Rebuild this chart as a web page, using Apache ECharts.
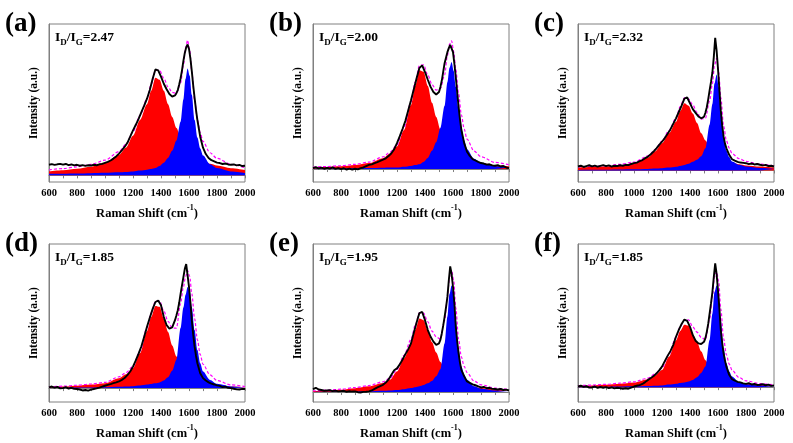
<!DOCTYPE html>
<html><head><meta charset="utf-8">
<script src="https://cdn.jsdelivr.net/npm/echarts@6/dist/echarts.min.js"></script>
<style>html,body{margin:0;padding:0;background:#fff}#c{width:793px;height:443px}</style>
</head><body><div id="c"></div>
<script>
// ---------- data ----------
const panelLabels = ['(a)', '(b)', '(c)', '(d)', '(e)', '(f)'];
const ratioLabels = ['2.47', '2.00', '2.32', '1.85', '1.95', '1.85'];
const xAxisRange = [600, 2000];
const xTickStep = 200;
// space (in % of plot height) below the fitted baseline, per panel
const baseOffset = [4.2, 8.2, 7.3, 8.8, 6.3, 9.4];

const bandX = [600,700,800,900,1000,1100,1150,1200,1250,1300,1330,1360,1390,1420,1450,1480,1510,1540,1560,1575,1590,1605,1620,1640,1660,1680,1700,1750,1800,1900,2000];
const measX = [600,620,640,660,680,700,720,740,760,780,800,820,840,860,880,900,920,940,960,980,1000,1020,1040,1060,1080,1100,1120,1140,1160,1180,1200,1220,1240,1260,1280,1300,1320,1340,1360,1380,1400,1420,1440,1460,1480,1500,
  1510,1520,1530,1540,1550,1560,1570,1580,1590,1600,1610,1620,1630,1640,1650,1660,
  1680,1700,1720,1740,1760,1780,1800,1820,1840,1860,1880,1900,1920,1940,1960,1980,2000];

// (a)
const measA = [6.7,7.1,6.6,7.0,7.3,6.8,7.2,6.5,6.9,6.3,6.7,6.1,6.5,6.0,6.4,6.2,6.7,6.4,7.0,7.3,7.9,8.5,9.4,10.6,12.0,13.8,15.8,18.0,20.6,24.5,28.5,32.0,35.8,40.0,44.2,48.5,54.0,61.0,67.0,66.5,62.5,58.0,54.5,51.5,49.8,50.6,
  52.0,54.0,57.5,61.5,66.5,72.5,77.5,81.0,82.8,80.0,74.0,66.0,57.0,49.0,41.5,35.0,
  24.5,17.5,13.5,11.0,9.6,8.9,8.1,7.8,7.2,7.5,6.9,6.7,6.9,6.3,6.6,5.9,6.1];
const dBandA = [2.5,3.2,4.2,5.5,8.0,13.0,17.5,25.0,35.0,45.0,53.5,61.8,60.5,53.5,45.0,37.0,30.0,24.5,21.5,19.5,17.8,16.0,14.5,12.8,11.3,10.0,9.0,7.3,6.2,4.5,3.3];
const gBandA = [1.0,1.1,1.2,1.4,1.6,2.0,2.2,2.5,3.0,3.6,4.0,4.6,6.0,8.0,11.0,15.5,22.0,34.0,48.0,61.0,67.7,63.0,51.0,35.0,24.0,17.0,12.5,7.0,4.6,2.5,1.5];
// (b)
const measB = [0.6,1.2,0.4,0.9,0.2,0.8,0.3,1.0,0.1,0.6,0.0,0.5,-0.3,0.3,-0.4,0.2,-0.2,0.6,1.0,1.8,2.6,3.0,3.8,4.4,5.1,5.9,6.8,8.2,10.0,12.6,16.4,20.8,25.5,30.5,37.0,43.6,50.5,57.5,64.0,65.6,61.4,56.5,52.0,48.8,47.2,48.8,
  52.0,56.0,61.5,67.0,70.5,74.0,76.5,78.6,78.0,74.0,66.5,58.0,48.5,39.4,31.5,24.7,
  16.4,11.0,8.3,6.3,5.4,4.5,3.8,3.5,2.8,3.0,2.3,2.1,2.5,1.6,1.9,1.0,0.6];
const dBandB = [1.0,1.3,1.7,2.5,3.8,6.9,9.8,14.3,24.7,40.5,52.5,62.5,61.5,52.5,42.0,33.0,25.0,19.5,16.8,15.0,13.5,12.2,11.0,9.5,8.3,7.3,6.4,4.9,3.8,2.4,1.7];
const gBandB = [0.2,0.3,0.4,0.5,0.6,0.8,0.9,1.0,1.5,2.0,2.5,3.0,4.5,7.0,11.5,17.0,26.0,40.0,55.0,64.0,67.7,62.0,52.0,38.0,26.0,18.0,12.5,6.5,4.0,1.8,1.0];
// (c)
const measC = [2.5,3.0,2.2,2.8,3.3,2.6,3.1,2.4,2.9,3.4,2.7,3.2,2.5,3.0,2.8,3.3,3.0,3.6,3.4,4.1,4.6,5.0,5.9,6.6,7.8,8.8,10.3,12.0,14.0,16.2,18.2,20.5,23.2,26.0,29.5,33.0,37.0,41.0,45.5,46.2,42.5,38.8,36.5,34.2,33.0,34.0,
  36.5,40.0,45.0,50.7,56.0,62.0,71.7,84.0,76.0,64.4,51.0,38.0,28.5,21.4,17.0,14.0,
  9.9,7.1,6.2,5.4,5.0,4.8,4.6,4.0,4.4,3.8,4.1,3.6,3.2,3.5,2.8,3.0,2.5];
const dBandC = [1.9,2.2,2.5,3.3,4.6,8.2,12.0,17.2,23.5,30.8,37.5,42.5,41.0,36.0,30.0,23.5,19.0,15.0,12.8,11.5,10.2,9.2,8.3,7.2,6.4,5.7,5.0,3.9,3.2,2.5,1.9];
const gBandC = [0.3,0.4,0.5,0.6,0.7,1.0,1.2,1.4,1.8,2.4,2.9,3.5,4.2,5.5,6.8,9.0,14.0,29.0,42.0,55.0,60.8,53.0,38.0,21.0,12.5,8.5,5.7,3.6,2.5,1.5,1.0];
// (d)
const measD = [0.4,1.0,0.3,0.8,-0.2,0.0,0.6,-0.3,0.2,-0.5,-0.6,-0.9,-1.5,-1.2,-1.6,-1.0,-0.6,-0.2,0.3,0.9,1.5,2.0,2.5,3.1,3.6,4.2,5.2,6.4,8.2,10.5,13.6,17.5,21.8,26.5,32.5,38.8,44.5,50.0,54.5,55.4,52.4,45.0,39.8,37.7,38.4,43.0,
  46.0,49.3,54.0,59.7,65.0,70.2,75.5,78.5,71.3,64.0,54.5,43.0,34.0,26.2,20.5,15.7,
  9.4,6.3,4.8,3.6,2.8,2.3,1.7,1.4,0.6,0.9,0.2,0.0,-0.4,-0.8,-1.0,-0.5,-0.6];
const dBandD = [0.6,1.0,1.5,2.2,3.1,6.3,8.8,12.6,22.0,36.0,45.0,52.0,51.5,44.0,35.5,27.0,20.0,15.5,13.0,11.5,10.3,9.3,8.4,7.3,6.4,5.6,4.6,3.2,2.1,1.0,0.6];
const gBandD = [0.1,0.2,0.3,0.4,0.5,0.8,1.0,1.2,1.6,2.2,2.6,3.0,3.6,4.8,6.8,11.0,18.0,38.0,51.0,59.0,64.0,61.5,51.4,36.7,24.1,15.7,10.5,5.2,2.7,1.0,0.4];
// (e)
const measE = [1.9,2.7,1.6,1.3,0.8,1.0,1.2,0.6,0.9,0.4,0.6,0.8,0.2,0.5,0.3,0.4,-0.1,-0.3,0.1,0.2,0.4,1.0,2.0,2.9,3.8,4.6,6.0,8.0,11.0,13.8,15.0,17.5,20.6,24.0,27.0,30.8,37.5,44.0,50.0,50.7,45.5,39.2,35.0,31.9,29.8,30.8,
  33.0,37.1,42.0,47.6,53.5,60.2,70.6,79.5,74.8,66.5,56.0,41.3,32.0,24.5,18.5,14.0,
  9.9,6.7,5.8,4.9,4.3,3.6,2.9,3.2,2.5,2.7,2.0,1.9,1.6,2.0,1.3,1.5,1.0];
const dBandE = [0.6,1.0,1.5,2.4,3.6,5.7,7.8,13.0,21.4,30.8,39.2,46.5,45.5,39.0,31.5,25.0,19.0,14.5,12.2,10.8,9.6,8.6,7.8,6.8,6.0,5.3,4.6,3.4,2.5,1.5,1.0];
const gBandE = [0.1,0.2,0.3,0.4,0.5,0.8,1.0,1.3,1.8,2.5,3.0,3.6,4.4,5.5,7.0,10.0,14.5,30.8,47.6,62.0,67.5,62.0,45.5,26.6,16.1,10.9,7.8,3.6,2.1,1.0,0.6];
// (f)
const measF = [0.4,0.9,0.2,0.6,-0.3,-0.2,0.4,-0.5,0.1,-0.4,0.0,-0.6,-0.2,-0.8,-0.4,-0.6,-1.0,-0.7,-1.0,-0.3,0.4,0.9,1.3,2.0,3.2,4.6,5.8,7.0,8.6,10.6,13.0,16.5,19.8,22.8,26.6,31.9,36.2,40.0,42.8,42.0,38.2,32.9,29.4,27.7,27.3,28.7,
  31.0,35.0,40.0,46.5,53.0,60.2,69.6,78.4,71.7,61.2,49.7,36.0,28.0,21.4,16.8,13.0,
  7.8,5.0,4.2,3.3,3.0,2.4,2.1,2.5,1.7,2.0,1.4,1.5,1.9,1.2,1.6,0.8,1.0];
const dBandF = [0.8,1.1,1.5,2.1,2.9,5.0,7.5,10.9,19.3,29.5,35.5,39.5,39.0,33.5,28.5,22.5,17.0,13.0,11.0,9.8,8.8,7.9,7.2,6.2,5.4,4.7,4.1,3.0,2.1,1.3,0.8];
const gBandF = [0.1,0.2,0.3,0.4,0.5,0.7,0.9,1.1,1.6,2.2,2.7,3.0,3.6,4.6,6.3,9.0,13.0,29.8,46.5,60.2,64.4,59.0,42.3,24.5,15.1,9.9,6.7,3.1,1.9,1.0,0.6];

const measured = [measA, measB, measC, measD, measE, measF];
const dBands = [dBandA, dBandB, dBandC, dBandD, dBandE, dBandF];
const gBands = [gBandA, gBandB, gBandC, gBandD, gBandE, gBandF];

// ---------- layout ----------
const colLeft = [49, 313, 578];
const rowTop = [24, 244];
const plotW = 196, plotH = 158;
const serif = 'Liberation Serif';
const frame = '#808080';

const grids = [], xAxes = [], yAxes = [], series = [], graphics = [];
for (let i = 0; i < 6; i++) {
  const L = colLeft[i % 3], T = rowTop[Math.floor(i / 3)];
  grids.push({left: L, top: T, width: plotW, height: plotH, show: true, borderColor: frame, borderWidth: 1, backgroundColor: 'transparent'});
  xAxes.push({
    type: 'value', gridIndex: i, min: xAxisRange[0], max: xAxisRange[1], interval: xTickStep,
    axisLine: {show: true, lineStyle: {color: frame, width: 1}},
    axisTick: {show: true, length: 3, lineStyle: {color: frame}},
    minorTick: {show: true, splitNumber: 2, length: 3, lineStyle: {color: frame}},
    splitLine: {show: false},
    axisLabel: {fontFamily: serif, fontWeight: 'bold', fontSize: 10.5, color: '#000', margin: 6, formatter: v => String(v)},
    name: '{n|Raman Shift (cm}{s|-1}{n|)}', nameLocation: 'middle', nameGap: 22,
    nameTextStyle: {rich: {
      n: {fontFamily: serif, fontWeight: 'bold', fontSize: 12.5, color: '#000', verticalAlign: 'top', padding: [3, 0, 0, 0]},
      s: {fontFamily: serif, fontWeight: 'bold', fontSize: 8, color: '#000', verticalAlign: 'top'}
    }}
  });
  yAxes.push({
    type: 'value', gridIndex: i, min: -baseOffset[i], max: 100 - baseOffset[i],
    axisLine: {show: true, lineStyle: {color: frame}}, axisTick: {show: false}, axisLabel: {show: false}, splitLine: {show: false},
    name: 'Intensity (a.u.)', nameLocation: 'middle', nameGap: 9,
    nameTextStyle: {fontFamily: serif, fontWeight: 'bold', fontSize: 11.5, color: '#000'}
  });
  const D = dBands[i], G = gBands[i];
  series.push({type: 'line', xAxisIndex: i, yAxisIndex: i, z: 1, silent: true, showSymbol: false, symbol: 'none', smooth: 0.3, smoothMonotone: 'x',
    data: bandX.map((x, k) => [x, D[k]]), lineStyle: {width: 0}, itemStyle: {color: '#ff0000'}, areaStyle: {color: '#ff0000', opacity: 1}});
  series.push({type: 'line', xAxisIndex: i, yAxisIndex: i, z: 2, silent: true, showSymbol: false, symbol: 'none', smooth: 0.3, smoothMonotone: 'x',
    data: bandX.map((x, k) => [x, G[k]]), lineStyle: {width: 0}, itemStyle: {color: '#0000ff'}, areaStyle: {color: '#0000ff', opacity: 1}});
  series.push({type: 'line', xAxisIndex: i, yAxisIndex: i, z: 3, silent: true, showSymbol: false, symbol: 'none', smooth: 0.3, smoothMonotone: 'x',
    data: bandX.map((x, k) => [x, D[k] + G[k]]), lineStyle: {width: 1.2, color: '#ff00ff', type: [3, 2]}});
  series.push({type: 'line', xAxisIndex: i, yAxisIndex: i, z: 4, silent: true, showSymbol: false, symbol: 'none',
    data: measX.map((x, k) => [x, measured[i][k]]), lineStyle: {width: 1.9, color: '#000'}});

  graphics.push({type: 'text', x: L - 44, y: T, style: {text: panelLabels[i], fontFamily: serif, fontWeight: 'bold', fontSize: 27, fill: '#000', verticalAlign: 'middle'}});
  graphics.push({type: 'text', x: L + 6, y: T + 15, style: {
    text: '{i|I}{s|D}{i|/I}{s|G}{i|=' + ratioLabels[i] + '}', verticalAlign: 'middle',
    rich: {
      i: {fontFamily: serif, fontWeight: 'bold', fontSize: 13.5, fill: '#000', verticalAlign: 'bottom', padding: [0, 0, 3, 0]},
      s: {fontFamily: serif, fontWeight: 'bold', fontSize: 9, fill: '#000', verticalAlign: 'bottom'}
    }}});
}

const chart = echarts.init(document.getElementById('c'), null, {renderer: 'canvas'});
chart.setOption({animation: false, backgroundColor: '#fff', grid: grids, xAxis: xAxes, yAxis: yAxes, series: series, graphic: graphics});
</script></body></html>
